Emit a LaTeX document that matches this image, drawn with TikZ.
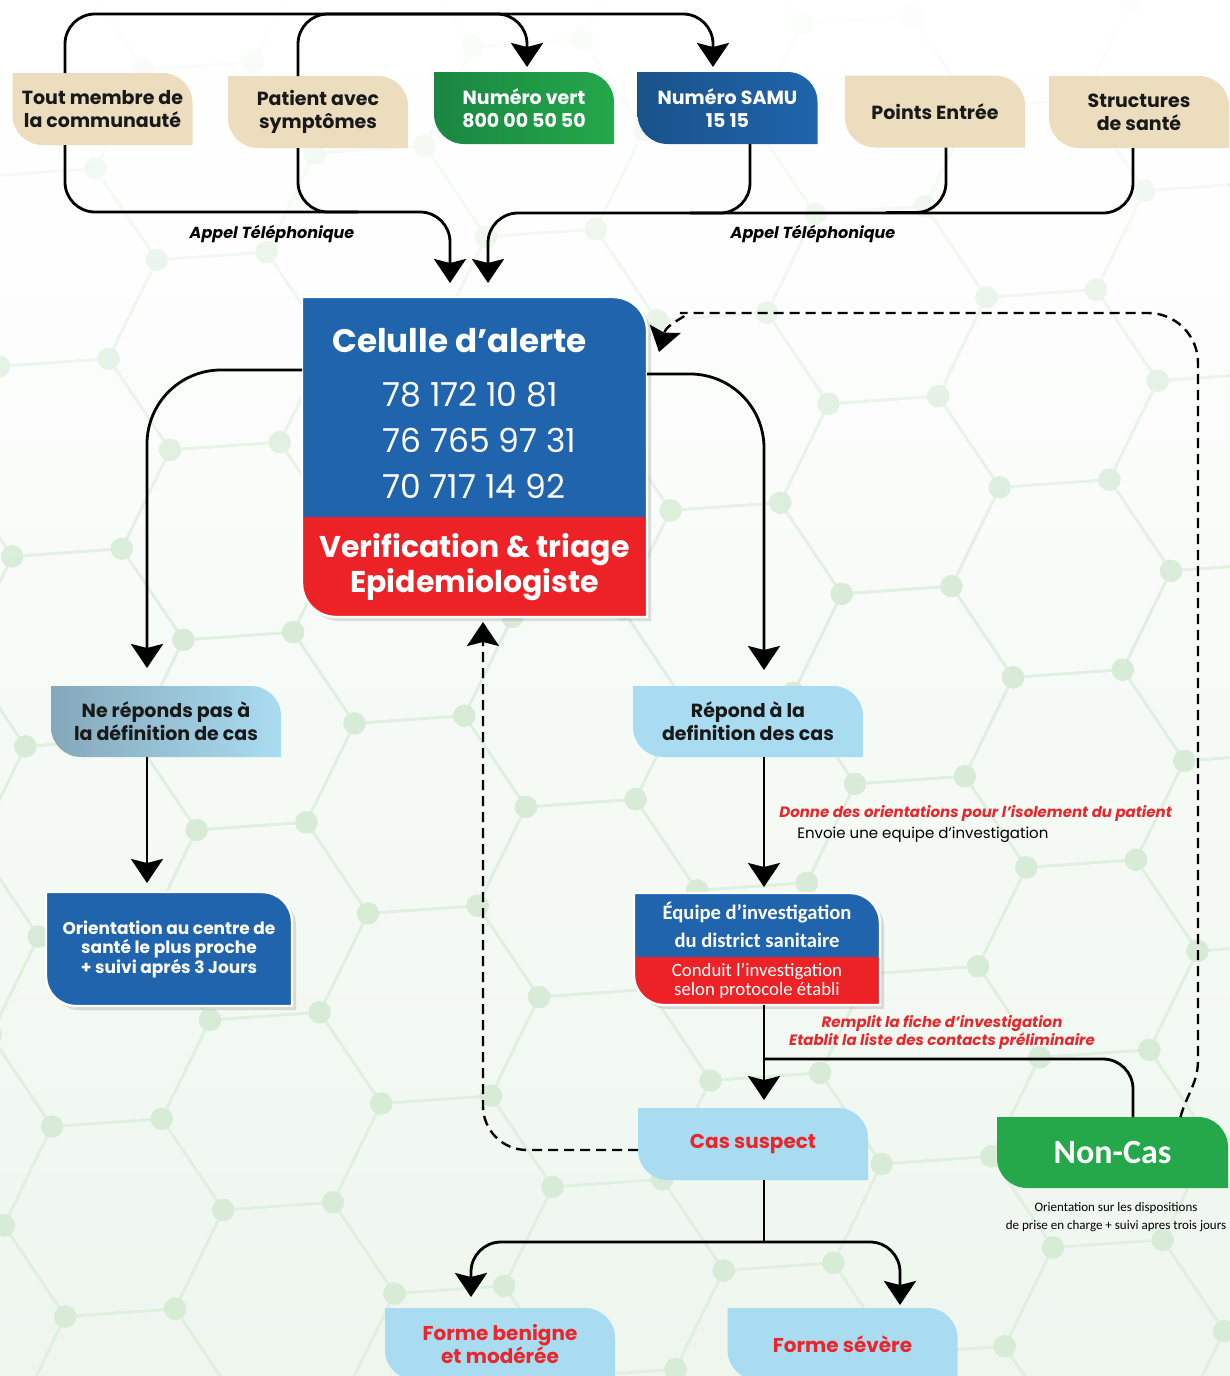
\documentclass[tikz,border=0pt]{standalone}
\usepackage{fontspec}
\setmainfont{Poppins}
\newfontfamily\narrowfont{Carlito}
\usetikzlibrary{positioning,arrows.meta,calc,shadows,fadings}
\definecolor{beige}{RGB}{237,221,191}
\definecolor{callgreen}{RGB}{36,168,74}
\definecolor{darkgreen}{RGB}{26,134,66}
\definecolor{samublue}{RGB}{31,100,172}
\definecolor{darkblue}{RGB}{26,82,138}
\definecolor{alertred}{RGB}{237,34,38}
\definecolor{skyblue}{RGB}{170,220,241}
\definecolor{greyblue}{RGB}{133,168,186}
\definecolor{casered}{RGB}{232,38,43}
\definecolor{hexline}{RGB}{224,240,224}
\definecolor{hexdot}{RGB}{215,235,215}
\definecolor{papergreen}{RGB}{238,246,238}
\tikzfading[name=topfade,top color=transparent!0,bottom color=transparent!100]

\pgfdeclarelayer{back}
\pgfsetlayers{back,main}

% leaf outline: top right and bottom left corners rounded
\newcommand{\leafpath}[3]{(#1.north west) -- ([xshift=-#3]#1.north east)
  arc[start angle=90,end angle=0,radius=#3] -- (#2.south east)
  -- ([xshift=#3]#2.south west) arc[start angle=270,end angle=180,radius=#3] -- cycle}
% lower part of a two colour box
\newcommand{\footpath}[2]{(#1.north west) -- (#1.north east) -- (#1.south east)
  -- ([xshift=#2]#1.south west) arc[start angle=270,end angle=180,radius=#2] -- cycle}

\begin{document}
\begin{tikzpicture}[x=0.5pt,y=0.5pt,
  box/.style={rectangle,inner sep=0pt,outer sep=0pt,align=center,minimum width=90pt,minimum height=36pt,font=\bfseries\fontsize{9.5}{11.5}\selectfont},
  caller/.style={box,text=black!90},
  hotline/.style={box,text=white},
  stagebox/.style={box,minimum width=115pt,minimum height=35.5pt,text=black!90},
  casebox/.style={box,minimum width=115pt,text=casered,font=\bfseries\fontsize{10}{11.5}\selectfont},
  note/.style={inner sep=0pt,font=\fontsize{7.5}{9}\selectfont},
  rednote/.style={note,text=casered,font=\bfseries\itshape\fontsize{7.5}{9}\selectfont},
  wire/.style={draw,line width=1.4pt,rounded corners=15pt},
  arr/.style={wire,-{Stealth[width=16pt,length=12pt,inset=2pt]},shorten >=2.5pt},
  dasharr/.style={arr,line width=1.2pt,dash pattern=on 5pt off 3pt},
  lift/.style={drop shadow={opacity=0.25,shadow xshift=2pt,shadow yshift=-2pt}}
]
\useasboundingbox (0,0) rectangle (1230,-1376);

% callers and hotlines
\node[caller] (tout) at (102.5,-109) {Tout membre de\\la communauté};
\node[caller] (patient) at (318,-112) {Patient avec\\symptômes};
\node[hotline] (vert) at (524,-108) {Numéro vert\\800 00 50 50};
\node[hotline] (samu) at (727.5,-108) {Numéro SAMU\\15 15};
\node[caller] (points) at (935,-111.5) {Points Entrée};
\node[caller] (struct) at (1139,-112) {Structures\\de santé};

\node[note,font=\bfseries\itshape\fontsize{8}{9}\selectfont] (appelL) at (272,-234) {Appel Téléphonique};
\node[note,font=\bfseries\itshape\fontsize{8}{9}\selectfont] (appelR) at (813,-234) {Appel Téléphonique};

% alert cell
\node[box,text=white,align=left,minimum width=172.5pt,minimum height=110pt,font=\fontsize{16.5}{23}\selectfont] (alert) at (474.5,-407)
  {{\bfseries\fontsize{16.3}{18}\selectfont\rule{0pt}{19pt}Celulle d’alerte\hspace*{15pt}}\\[4pt]
   \hspace*{25pt}78 172 10 81\\\hspace*{25pt}76 765 97 31\\\hspace*{25pt}70 717 14 92};
\node[box,text=white,minimum width=172.5pt,minimum height=50pt,font=\bfseries\fontsize{15}{17.5}\selectfont] (triage) at (474.5,-567)
  {Verification \& triage\\Epidemiologiste};

% left branch
\node[stagebox] (nerep) at (166,-721.5) {Ne réponds pas à\\la définition de cas};
\node[box,text=white,minimum width=123pt,minimum height=57pt,font=\bfseries\fontsize{8.5}{9.75}\selectfont] (orient) at (169,-949)
  {Orientation au centre de\\santé le plus proche\\+ suivi aprés 3 Jours};

% right branch
\node[stagebox] (repond) at (748,-721.5) {Répond à la\\definition des cas};
\node[rednote,anchor=west] (isolement) at (779,-813) {Donne des orientations pour l’isolement du patient};
\node[note,anchor=west] (envoie) at (797,-835) {Envoie une equipe d’investigation};
\node[box,text=white,minimum width=123pt,minimum height=32pt,font=\narrowfont\bfseries\fontsize{10.3}{14}\selectfont] (equipe) at (757,-925)
  {Équipe d’investigation\\du district sanitaire};
\node[box,text=white,minimum width=123pt,minimum height=24pt,font=\narrowfont\fontsize{9.4}{9.3}\selectfont] (conduit) at (757,-981)
  {Conduit l’investigation\\selon protocole établi};
\node[rednote,align=center] (fiche) at (942,-1032) {Remplit la fiche d’investigation\\Etablit la liste des contacts préliminaire};

\node[casebox] (suspect) at (753,-1144) {Cas suspect};
\node[box,text=white,minimum width=115.5pt,minimum height=35.5pt,font=\narrowfont\bfseries\fontsize{17}{18}\selectfont] (noncas) at (1112.5,-1152.5) {Non-Cas};
\node[note,align=center,font=\narrowfont\fontsize{6.5}{9}\selectfont] (suivi) at (1116,-1217)
  {Orientation sur les dispositions\\de prise en charge + suivi apres trois jours};

\node[casebox] (benigne) at (500,-1344) {Forme benigne\\et modérée};
\node[casebox] (severe) at (842.5,-1344) {Forme sévère};

% backdrop and box shapes
\begin{pgfonlayer}{back}
  \shade[top color=white,bottom color=papergreen] (0,0) rectangle (1230,-1376);
  \begin{scope}
    \clip (0,0) rectangle (1230,-1376);
    \begin{scope}[shift={(890,-495)},rotate=4]
      \foreach \i in {-6,...,3}
        \foreach \j in {-5,...,8} {
          \draw[hexline,line width=1.3pt,shift={({165*\i},{-95.25*\i-190.5*\j})}]
            (0:110) -- (60:110) -- (120:110) -- (180:110) -- (240:110) -- (300:110) -- cycle;
          \foreach \a in {0,60,...,300}
            \fill[hexdot,shift={({165*\i},{-95.25*\i-190.5*\j})}] (\a:110) circle[radius=5.5pt];
        }
    \end{scope}
    \fill[white,path fading=topfade,fill opacity=0.95] (0,0) rectangle (1230,-620);
  \end{scope}

  \foreach \n in {tout,patient,points,struct}
    \fill[beige] \leafpath{\n}{\n}{15pt};
  \shade[left color=darkgreen,right color=callgreen] \leafpath{vert}{vert}{15pt};
  \shade[left color=darkblue,right color=samublue] \leafpath{samu}{samu}{15pt};

  \fill[samublue,lift] \leafpath{alert}{triage}{17pt};
  \fill[alertred] \footpath{triage}{17pt};
  \draw[white,line width=1.2pt] \leafpath{alert}{triage}{17pt};

  \shade[left color=greyblue,right color=skyblue] \leafpath{nerep}{nerep}{15pt};
  \fill[samublue,lift] \leafpath{orient}{orient}{15pt};
  \draw[white,line width=1.2pt] \leafpath{orient}{orient}{15pt};

  \fill[samublue,lift] \leafpath{equipe}{conduit}{15pt};
  \fill[alertred] \footpath{conduit}{15pt};
  \draw[white,line width=1.2pt] \leafpath{equipe}{conduit}{15pt};

  \foreach \n in {repond,suspect,benigne,severe}
    \fill[skyblue] \leafpath{\n}{\n}{15pt};
  \fill[callgreen] \leafpath{noncas}{noncas}{15pt};
\end{pgfonlayer}

% calls to the hotlines
\draw[arr] ([xshift=-18.75pt]tout.north) -- ++(0,59) -| ([xshift=-7.25pt]samu.north);
\draw[arr] ([xshift=-10pt]patient.north) -- ++(0,62) -| ([xshift=1.5pt]vert.north);

% calls to the alert cell
\draw[arr,shorten >=7pt] ([xshift=-18.75pt]tout.south) -- ++(0,-67) -| ([xshift=-12.25pt]alert.north);
\draw[wire] ([xshift=-10pt]patient.south) -- ++(0,-64) -- ++(60,0);
\draw[arr,shorten >=7pt] ([xshift=-3pt]struct.south) -- ++(0,-65) -| ([xshift=6.75pt]alert.north);
\draw[wire] ([xshift=11.25pt]samu.south) -- ++(0,-69) -- ++(-60,0);
\draw[wire] ([xshift=5.5pt]points.south) -- ++(0,-65) -- ++(-60,0);

% triage outcomes
\draw[arr,rounded corners=37pt,shorten >=9pt] ([yshift=18.5pt]alert.west) -| ([xshift=-9.5pt]nerep.north);
\draw[arr,rounded corners=37pt,shorten >=8pt] ([yshift=16.5pt]alert.east) -| ([xshift=8pt]repond.north);
\draw[arr,shorten >=4.5pt] ([xshift=-9.5pt]nerep.south) -- ([xshift=-9.5pt]nerep.south |- orient.north);
\draw[arr,shorten >=3pt] ([xshift=8pt]repond.south) -- ([xshift=8pt]repond.south |- equipe.north);

% investigation
\draw[wire] ([xshift=3.5pt]conduit.south) -- ++(0,-54) coordinate (split);
\draw[arr,shorten >=4pt] (split) -- (split |- suspect.north);
\draw[wire] (split) -| ([xshift=10.25pt]noncas.north);

\draw[wire] ([xshift=5.5pt]suspect.south) -- ++(0,-62) coordinate (fork);
\draw[arr,shorten >=5.5pt] (fork) -| ([xshift=-14.5pt]benigne.north);
\draw[arr,shorten >=1.5pt] (fork) -| ([xshift=28.75pt]severe.north);

% feedback to the alert cell
\draw[dasharr,rounded corners=22pt] ([yshift=-3pt]suspect.west) -| ([xshift=4.25pt]triage.south);
\draw[dasharr,sharp corners,shorten >=0pt] ([xshift=34pt]noncas.north) to[out=75,in=-90] (1198,-1060)
  [rounded corners=25pt] |- (730,-313) [sharp corners] to[out=180,in=75] ([xshift=6pt,yshift=27.5pt]alert.east);

\end{tikzpicture}
\end{document}
